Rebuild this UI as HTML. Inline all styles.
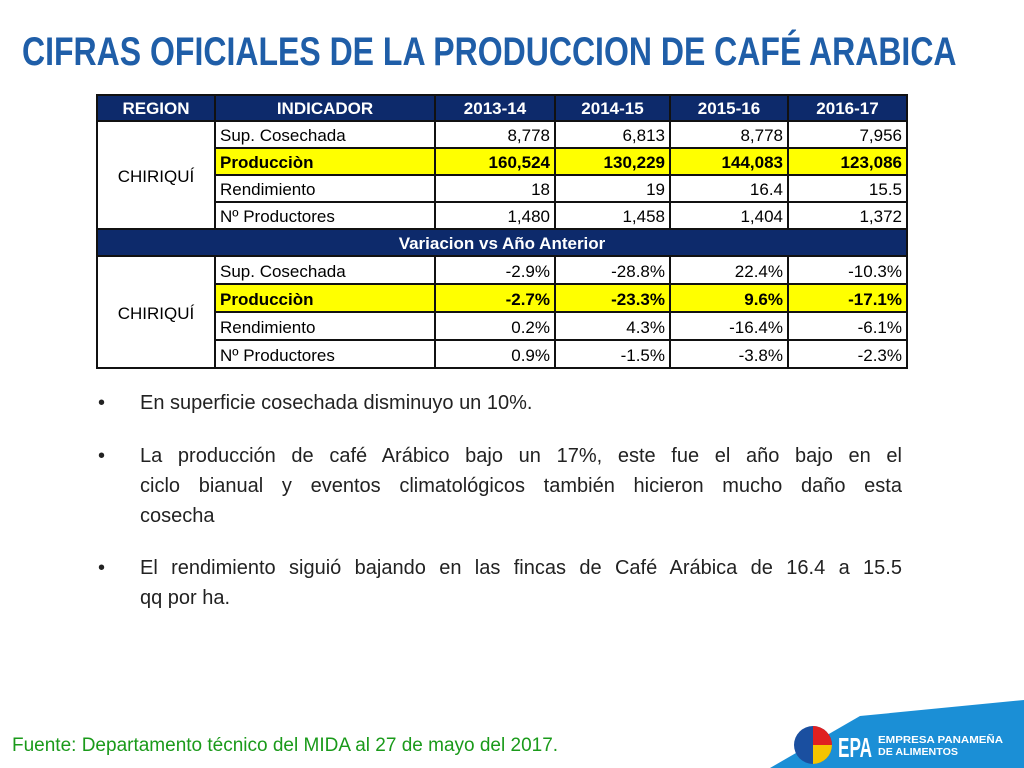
<!DOCTYPE html>
<html><head><meta charset="utf-8"><style>
body{margin:0;width:1024px;height:768px;background:#fff;position:relative;overflow:hidden;font-family:"Liberation Sans",sans-serif}
#title{position:absolute;left:22px;top:30px;font-weight:bold;font-size:40px;color:#1f5ea8;white-space:nowrap;transform-origin:0 0;transform:scaleX(0.8)}
table{position:absolute;left:96px;top:94px;border-collapse:collapse;font-size:17px}
td{border:2px solid #111;padding:2px 4px 0;height:23px;line-height:23px}
.h td{background:#0d2a6b;color:#fff;font-weight:bold;text-align:center;height:22px;padding-top:1px}
.h.v td{height:24px}
.lo td{height:24px;padding-top:2px}
.n{text-align:right}
.y td{background:#ffff00;font-weight:bold}
.reg{text-align:center;background:#fff}
.bl{position:absolute;left:98px;width:804px;font-size:20px;line-height:30px;color:#222}
.bl span.b{position:absolute;left:0}
.ln{margin-left:42px;text-align:justify;text-align-last:justify}
.ln.e{text-align-last:left}
#src{position:absolute;left:12px;top:735px;font-size:19px;color:#1a9a1a}
</style></head><body>
<div id="title">CIFRAS OFICIALES DE LA PRODUCCION DE CAFÉ ARABICA</div>
<table>
<colgroup><col style="width:118px"><col style="width:220px"><col style="width:120px"><col style="width:115px"><col style="width:118px"><col style="width:119px"></colgroup>
<tr class="h"><td>REGION</td><td>INDICADOR</td><td>2013-14</td><td>2014-15</td><td>2015-16</td><td>2016-17</td></tr>
<tr><td class="reg" rowspan="4">CHIRIQUÍ</td><td>Sup. Cosechada</td><td class="n">8,778</td><td class="n">6,813</td><td class="n">8,778</td><td class="n">7,956</td></tr>
<tr class="y"><td>Producciòn</td><td class="n">160,524</td><td class="n">130,229</td><td class="n">144,083</td><td class="n">123,086</td></tr>
<tr><td>Rendimiento</td><td class="n">18</td><td class="n">19</td><td class="n">16.4</td><td class="n">15.5</td></tr>
<tr><td>Nº Productores</td><td class="n">1,480</td><td class="n">1,458</td><td class="n">1,404</td><td class="n">1,372</td></tr>
<tr class="h v"><td colspan="6">Variacion vs Año Anterior</td></tr>
<tr class="lo"><td class="reg" rowspan="4">CHIRIQUÍ</td><td>Sup. Cosechada</td><td class="n">-2.9%</td><td class="n">-28.8%</td><td class="n">22.4%</td><td class="n">-10.3%</td></tr>
<tr class="y lo"><td>Producciòn</td><td class="n">-2.7%</td><td class="n">-23.3%</td><td class="n">9.6%</td><td class="n">-17.1%</td></tr>
<tr class="lo"><td>Rendimiento</td><td class="n">0.2%</td><td class="n">4.3%</td><td class="n">-16.4%</td><td class="n">-6.1%</td></tr>
<tr class="lo"><td>Nº Productores</td><td class="n">0.9%</td><td class="n">-1.5%</td><td class="n">-3.8%</td><td class="n">-2.3%</td></tr>
</table>
<div class="bl" style="top:388px"><span class="b">•</span><div class="ln e">En superficie cosechada  disminuyo un 10%.</div></div>
<div class="bl" style="top:441px"><span class="b">•</span><div class="ln">La producción de café Arábico bajo un 17%, este fue el año bajo en el</div><div class="ln">ciclo bianual y eventos climatológicos también hicieron mucho daño esta</div><div class="ln e">cosecha</div></div>
<div class="bl" style="top:553px"><span class="b">•</span><div class="ln">El rendimiento siguió bajando en las fincas de Café Arábica de 16.4 a 15.5</div><div class="ln e">qq por ha.</div></div>
<svg style="position:absolute;left:0;top:0" width="1024" height="768">
<polygon points="770,768 860,716 1024,700 1024,768" fill="#1b8fd6"/>
<circle cx="813" cy="745" r="19" fill="#1a4fa0"/>
<path d="M813 726 A19 19 0 0 1 832 745 L813 745Z" fill="#e02020"/>
<path d="M832 745 A19 19 0 0 1 813 764 L813 745Z" fill="#f5c400"/>
<text x="838" y="757" font-family="Liberation Sans" font-weight="bold" font-size="28" fill="#fff" textLength="34" lengthAdjust="spacingAndGlyphs">EPA</text>
<text x="878" y="743" font-family="Liberation Sans" font-weight="bold" font-size="10" fill="#fff" textLength="125" lengthAdjust="spacingAndGlyphs">EMPRESA PANAMEÑA</text>
<text x="878" y="755" font-family="Liberation Sans" font-weight="bold" font-size="10" fill="#fff" textLength="80" lengthAdjust="spacingAndGlyphs">DE ALIMENTOS</text>
</svg>
<div id="src">Fuente: Departamento técnico del MIDA al 27 de mayo del 2017.</div>
</body></html>
